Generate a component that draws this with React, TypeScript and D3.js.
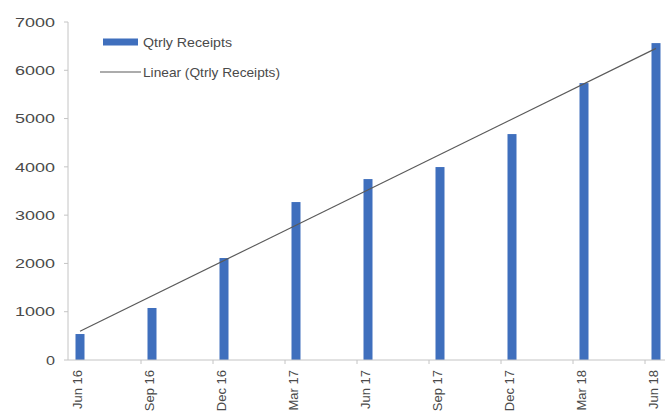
import React from "react";
import * as d3 from "d3";

const categories = ["Jun 16", "Sep 16", "Dec 16", "Mar 17", "Jun 17", "Sep 17", "Dec 17", "Mar 18", "Jun 18"];
const receipts = [538, 1077, 2112, 3271, 3747, 3996, 4679, 5735, 6563];
const yTicks = [0, 1000, 2000, 3000, 4000, 5000, 6000, 7000];
const seriesName = "Qtrly Receipts";
const trendName = "Linear (Qtrly Receipts)";

const W = 665;
const H = 412;

export default function App() {
  const x = d3.scaleLinear().domain([0, categories.length - 1]).range([80, 656]);
  const y = d3.scaleLinear().domain([0, 7000]).range([360, 22]);
  const axisX = 68;
  const barW = 9;

  // linear regression trendline
  const idx = receipts.map((_, i) => i);
  const mx = d3.mean(idx) as number;
  const my = d3.mean(receipts) as number;
  const sxy = d3.sum(idx.map((i) => (i - mx) * (receipts[i] - my)));
  const sxx = d3.sum(idx.map((i) => (i - mx) * (i - mx)));
  const slope = sxy / sxx;
  const intercept = my - slope * mx;
  const trend = [0, categories.length - 1].map((i) => [x(i), y(intercept + slope * i)] as [number, number]);
  const trendPath = d3.line()(trend) as string;

  const font = "'Liberation Sans', Arial, sans-serif";
  const textColor = "#4a4a4a";
  const axisColor = "#c4c4c4";
  const barColor = "#3f6fbd";

  return (
    <svg width={W} height={H} style={{ position: "absolute", left: 0, top: 0, background: "#fff" }} fontFamily={font}>
      {/* y axis */}
      <line x1={axisX} x2={axisX} y1={y(7000)} y2={y(0)} stroke={axisColor} strokeWidth={1} />
      {yTicks.map((t) => (
        <g key={t}>
          <line x1={axisX - 4} x2={axisX} y1={y(t)} y2={y(t)} stroke={axisColor} />
          <text
            x={55}
            y={y(t)}
            dy="0.36em"
            textAnchor="end"
            fontSize={13}
            fill={textColor}
            textLength={t === 0 ? 9 : 40}
            lengthAdjust="spacingAndGlyphs"
          >
            {t}
          </text>
        </g>
      ))}
      {/* bars */}
      {receipts.map((v, i) => (
        <rect key={i} x={x(i) - barW / 2} y={y(v)} width={barW} height={y(0) - y(v)} fill={barColor} />
      ))}
      {/* x axis */}
      <line x1={axisX} x2={W} y1={y(0)} y2={y(0)} stroke={axisColor} strokeWidth={1} />
      {categories.map((c, i) => (
        <g key={c}>
          {i > 0 && <line x1={x(i) - 11} x2={x(i) - 11} y1={y(0)} y2={y(0) + 4} stroke={axisColor} />}
          <text
            transform={`translate(${x(i) - 3},${y(0) + 10}) rotate(-90)`}
            dy="0.36em"
            textAnchor="end"
            fontSize={13}
            fill={textColor}
          >
            {c}
          </text>
        </g>
      ))}
      {/* trendline */}
      <path d={trendPath} fill="none" stroke="#5a5a5a" strokeWidth={1.2} />
      {/* legend */}
      <rect x={103} y={38.5} width={35} height={7} fill={barColor} />
      <text x={143} y={42} dy="0.36em" fontSize={13} fill={textColor} textLength={89} lengthAdjust="spacingAndGlyphs">
        {seriesName}
      </text>
      <line x1={100} x2={141} y1={72} y2={72} stroke="#5a5a5a" strokeWidth={1.2} />
      <text x={143} y={72} dy="0.36em" fontSize={13} fill={textColor} textLength={137} lengthAdjust="spacingAndGlyphs">
        {trendName}
      </text>
    </svg>
  );
}
